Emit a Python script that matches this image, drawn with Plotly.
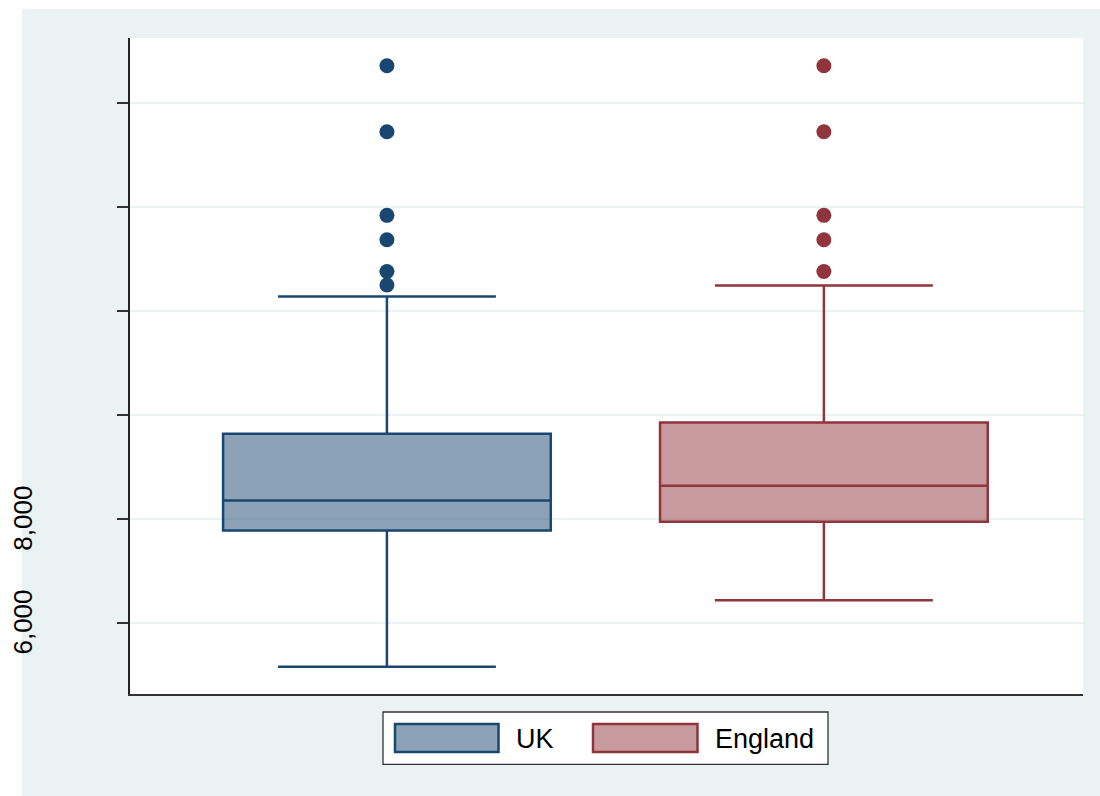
import plotly.graph_objects as go

# Summary statistics per group
groups = ["UK", "England"]
positions = [0, 1]
lower_whisker = [5150, 6430]
q1 = [7770, 7940]
median = [8350, 8635]
q3 = [9635, 9850]
upper_whisker = [12280, 12490]
outliers_uk = [12500, 12760, 13370, 13840, 15450, 16720]
outliers_england = [12760, 13370, 13840, 15450, 16720]

# Y axis ticks (only the lowest two carry a visible label)
tick_values = [6000, 8000, 10000, 12000, 14000, 16000]
tick_labels = ["6,000", "8,000"]

line_colors = ["#1A476F", "#90353B"]
fill_colors = ["rgba(26,71,111,0.5)", "rgba(144,53,59,0.5)"]
outlier_sets = [outliers_uk, outliers_england]

BG = "#EAF2F3"
FONT = "Liberation Sans, Arial, sans-serif"

W, H = 1100, 796
L, R, T, B = 130, 1083, 38, 694.5


def px_x(p):
    return (p - L) / (R - L)


def px_y(p):
    return (B - p) / (B - T)


fig = go.Figure()

for i, name in enumerate(groups):
    fig.add_trace(go.Box(
        x=[positions[i]],
        q1=[q1[i]], median=[median[i]], q3=[q3[i]],
        lowerfence=[lower_whisker[i]], upperfence=[upper_whisker[i]],
        width=0.75, whiskerwidth=0.665,
        fillcolor=fill_colors[i],
        line=dict(color=line_colors[i], width=2.5),
        boxpoints=False, name=name, showlegend=False,
    ))
    fig.add_trace(go.Scatter(
        x=[positions[i]] * len(outlier_sets[i]), y=outlier_sets[i],
        mode="markers",
        marker=dict(color=line_colors[i], size=15, line=dict(width=0)),
        showlegend=False, hoverinfo="y",
    ))

shapes = [
    # outer background and white plot region
    dict(type="rect", xref="paper", yref="paper",
         x0=px_x(22), x1=px_x(W + 5), y0=px_y(W), y1=px_y(9),
         fillcolor=BG, line=dict(width=0), layer="below"),
    dict(type="rect", xref="paper", yref="paper", x0=0, x1=1, y0=0, y1=1,
         fillcolor="white", line=dict(width=0), layer="below"),
    # legend frame
    dict(type="rect", xref="paper", yref="paper",
         x0=px_x(383), x1=px_x(828), y0=px_y(765), y1=px_y(712.5),
         fillcolor="white", line=dict(color="#333333", width=1.3)),
]

annotations = []
legend_swatches = [(395, 498.5, 514), (593, 697.5, 713)]
for i, name in enumerate(groups):
    sx0, sx1, tx = legend_swatches[i]
    shapes.append(dict(type="rect", xref="paper", yref="paper",
                       x0=px_x(sx0), x1=px_x(sx1), y0=px_y(752.5), y1=px_y(724.5),
                       fillcolor=fill_colors[i], line=dict(color=line_colors[i], width=2.5)))
    annotations.append(dict(xref="paper", yref="paper", x=px_x(tx), y=px_y(739.5),
                            text=name, showarrow=False, xanchor="left", yanchor="middle",
                            font=dict(family=FONT, size=27, color="black")))

for v, lab in zip(tick_values, tick_labels):
    annotations.append(dict(xref="paper", yref="y", x=px_x(23), y=v,
                            text=lab, showarrow=False, textangle=-90,
                            xanchor="center", yanchor="middle",
                            font=dict(family=FONT, size=26, color="black")))

fig.update_layout(
    width=W, height=H,
    margin=dict(l=L, r=W - R, t=T, b=H - B),
    paper_bgcolor="white", plot_bgcolor="white",
    shapes=shapes, annotations=annotations,
    showlegend=False,
    xaxis=dict(range=[-0.588, 1.593], showticklabels=False, ticks="",
               showgrid=False, zeroline=False, showline=True,
               linecolor="#333333", linewidth=1.5),
    yaxis=dict(range=[4624, 17255], tickvals=tick_values, showticklabels=False,
               ticks="outside", ticklen=11, tickwidth=1.5, tickcolor="#333333",
               showgrid=True, gridcolor=BG, gridwidth=1.5, zeroline=False,
               showline=True, linecolor="#222222", linewidth=1.5),
)

fig.write_html("out.html")
